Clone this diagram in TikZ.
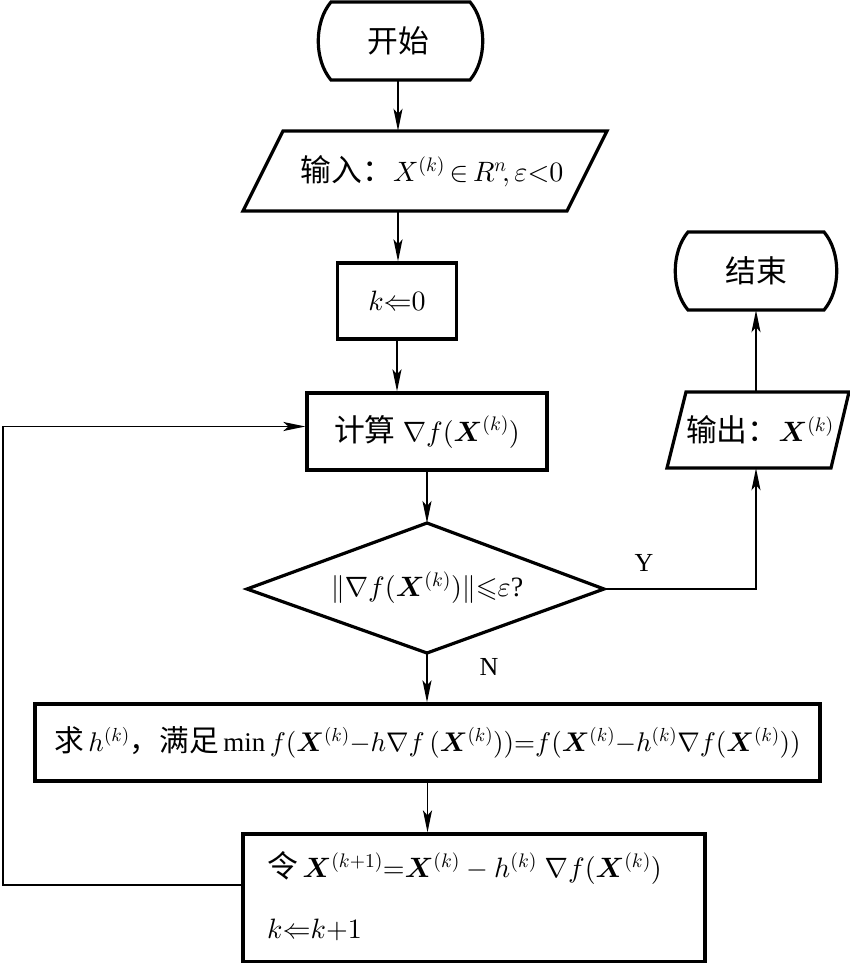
\documentclass[tikz,border=0pt]{standalone}
\usepackage{amsmath,amssymb}
\usepackage{bm}
\usepackage{fontspec}
\setmainfont{Liberation Serif}
\newfontfamily\cjk[Scale=1.1]{Noto Sans CJK SC}
\DeclareFontShape{OML}{cmm}{m}{it}{<->cmmi10}{}
\DeclareFontShape{OML}{cmm}{b}{it}{<->cmmib10}{}
\DeclareFontShape{OMS}{cmsy}{m}{n}{<->cmsy10}{}
\DeclareFontShape{OMS}{cmsy}{b}{n}{<->cmbsy10}{}
\DeclareFontShape{OT1}{cmr}{m}{n}{<->cmr10}{}
\DeclareFontShape{OT1}{cmr}{bx}{n}{<->cmbx10}{}
\DeclareFontShape{OMX}{cmex}{m}{n}{<->cmex10}{}
\usetikzlibrary{arrows.meta}
\tikzset{
  box/.style={draw, line width=3.2pt, inner sep=0pt},
  shp/.style={draw, line width=3.2pt},
  txt/.style={inner sep=0pt},
  conn/.style={line width=1.8pt, -{Stealth[length=22pt,width=9pt,inset=5pt]}},
}
\begin{document}
\begin{tikzpicture}[x=1pt,y=-1pt,font=\fontsize{28}{34}\selectfont]
\useasboundingbox (0,0) rectangle (850,963);
% start terminator
\node[txt, minimum width=162pt, minimum height=78pt] (start) at (398,41) {\cjk 开始};
\draw[shp] (331,2) -- (470,2) .. controls (487,22) and (487,60) .. (470,80) -- (331,80) .. controls (314,60) and (314,22) .. (331,2) -- cycle;
% input
\node[txt, minimum width=284pt, minimum height=80pt] (inp) at (432,171) {{\cjk 输入：}$X^{(k)}\,{\in}\,R^{n}\!, \varepsilon{<}0$};
\draw[shp] (283,131) -- (607,131) -- (567,211) -- (243,211) -- cycle;
% k <= 0
\node[box, minimum width=119pt, minimum height=76pt] (k0) at (397,301) {$k{\Leftarrow} 0$};
% compute
\node[box, minimum width=240pt, minimum height=77pt] (comp) at (427,431.5) {{\cjk 计算} $\nabla f(\bm X^{(k)})$};
% decision
\coordinate (dt) at (427,523);
\coordinate (dl) at (247,589);
\coordinate (dr) at (604,589);
\coordinate (db) at (427,653);
\draw[shp] (dt) -- (dr) -- (db) -- (dl) -- cycle;
\node[txt] (dec) at (427,588) {$\|\nabla f(\bm X^{(k)})\|{\leqslant}\varepsilon$?};
% output
\node[txt, minimum width=140pt, minimum height=76pt] (out) at (756,430) {\hspace*{8pt}{\cjk 输出：}$\bm X^{(k)}$};
\draw[shp] (686,392) -- (849,392) -- (831,468) -- (667,468) -- cycle;
% end terminator
\node[txt, minimum width=162pt, minimum height=78pt] (end) at (756,271) {\cjk 结束};
\draw[shp] (688,232) -- (824,232) .. controls (841,252) and (841,290) .. (824,310) -- (688,310) .. controls (671,290) and (671,252) .. (688,232) -- cycle;
% solve
\node[box, minimum width=785pt, minimum height=77pt, font=\fontsize{27}{32}\selectfont] (solve) at (427.5,742.5) {{\cjk 求}\,$h^{(k)}${\cjk ，满足}\,$\min f(\bm X^{(k)}{-}h\nabla f\,(\bm X^{(k)})){=}f(\bm X^{(k)}{-}h^{(k)}\nabla f(\bm X^{(k)}))$};
% update
\node[box, minimum width=462pt, minimum height=128pt] (upd) at (474,898) {};
\node[txt, anchor=west] (u1) at (267,868) {{\cjk 令}\,$\bm X^{(k+1)}{=}\bm X^{(k)}-h^{(k)}\;\nabla f(\bm X^{(k)})$};
\node[txt, anchor=west] (u2) at (267,930) {$k{\Leftarrow} k{+}1$};
% labels
\node[txt, font=\fontsize{26}{30}\selectfont] (ly) at (644,563) {Y};
\node[txt, font=\fontsize{26}{30}\selectfont] (ln) at (489,667) {N};
% connectors
\draw[conn] (start.south) -- (start.south |- inp.north);
\draw[conn] (inp.south -| start.south) -- (start.south |- k0.north);
\draw[conn] (k0.south) -- (k0.south |- comp.north);
\draw[conn] (comp.south) -- (dt);
\draw[conn] (db) -- (db |- solve.north);
\draw[conn] (solve.south) -- (solve.south |- upd.north);
\draw[conn] (dr) -| (out.south);
\draw[conn] (out.north) -- (end.south);
\coordinate (lp) at (3,885);
\draw[conn] ([yshift=13pt]upd.west) -- (lp) |- ([yshift=5pt]comp.west);
\end{tikzpicture}
\end{document}
